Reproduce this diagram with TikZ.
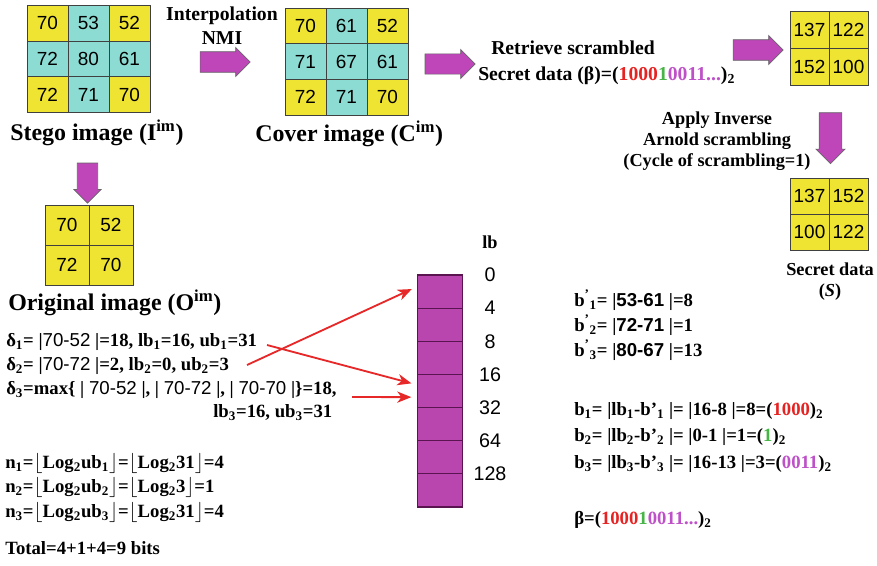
\documentclass[tikz,border=0pt]{standalone}
\usepackage{fontspec}
\setmainfont{Liberation Serif}
\setsansfont{Liberation Sans}
\usetikzlibrary{shapes.arrows,arrows.meta}
\definecolor{gridyellow}{RGB}{240,228,50}
\definecolor{gridcyan}{RGB}{140,220,212}
\definecolor{arrowmag}{RGB}{190,70,185}
\definecolor{binfill}{RGB}{185,70,175}
\definecolor{binline}{RGB}{90,20,80}
\definecolor{linkred}{RGB}{230,40,40}
\definecolor{bitred}{RGB}{230,35,35}
\definecolor{bitgreen}{RGB}{70,180,70}
\definecolor{bitpurple}{RGB}{190,80,200}
\newcommand\sv[1]{{\sffamily\mdseries #1}}
\newcommand\svb[1]{{\sffamily #1}}
\newcommand\bits{(\textcolor{bitred}{1000}\textcolor{bitgreen}{1}\textcolor{bitpurple}{0011...})\textsubscript{2}}
\tikzset{
  cell/.style={draw=black!75,line width=0.6pt,inner sep=0pt,
    font=\sffamily\fontsize{13.5}{14}\selectfont,
    minimum width=1.025cm,minimum height=0.9cm},
  ycell/.style={cell,fill=gridyellow},
  ccell/.style={cell,fill=gridcyan},
  bigarrow/.style={single arrow,draw=black!60,fill=arrowmag,line width=0.5pt,
    inner sep=0.19cm,minimum width=0.72cm,minimum height=1.25cm,
    single arrow head extend=0.08cm},
  bin/.style={draw=binline,fill=binfill,line width=0.8pt,
    minimum width=1.125cm,minimum height=0.8285cm,inner sep=0pt},
  ttl/.style={font=\bfseries\fontsize{17}{19}\selectfont,inner sep=0pt},
  txt/.style={font=\bfseries\fontsize{13}{15}\selectfont,inner sep=0pt},
  eq/.style={font=\bfseries\fontsize{13.3}{15}\selectfont,inner sep=0pt,anchor=west},
  lbnum/.style={font=\sffamily\fontsize{14}{15}\selectfont,inner sep=0pt},
  link/.style={-{Stealth[length=10pt,width=8pt,inset=3pt]},draw=linkred,line width=1.3pt}
}
\begin{document}
\begin{tikzpicture}[x=0.025cm,y=-0.025cm]
\useasboundingbox (0,0) rectangle (877,566);
% stego image
\node[ycell] (s11) at (47.5,23) {70};
\node[ccell] (s12) at (88.5,23) {53};
\node[ycell] (s13) at (129.5,23) {52};
\node[ccell] (s21) at (47.5,59) {72};
\node[ccell] (s22) at (88.5,59) {80};
\node[ccell] (s23) at (129.5,59) {61};
\node[ycell] (s31) at (47.5,94.5) {72};
\node[ccell] (s32) at (88.5,94.5) {71};
\node[ycell] (s33) at (129.5,94.5) {70};
\node[ttl,anchor=west] (stego) at (10,133) {Stego image (I\textsuperscript{im})};
% cover image
\node[ycell] (c11) at (305.5,26) {70};
\node[ccell] (c12) at (346.5,26) {61};
\node[ycell] (c13) at (387.5,26) {52};
\node[ccell] (c21) at (305.5,61.5) {71};
\node[ccell] (c22) at (346.5,61.5) {67};
\node[ccell] (c23) at (387.5,61.5) {61};
\node[ycell] (c31) at (305.5,97) {72};
\node[ccell] (c32) at (346.5,97) {71};
\node[ycell] (c33) at (387.5,97) {70};
\node[ttl,anchor=west] (cover) at (255,134) {Cover image (C\textsuperscript{im})};
% interpolation step
\node[txt,font=\bfseries\fontsize{14}{15}\selectfont] (interp) at (222,16) {Interpolation};
\node[txt,font=\bfseries\fontsize{14}{15}\selectfont] (nmi) at (222,38) {NMI};
\node[bigarrow] (a1) at (220,62) {};
\node[bigarrow,inner sep=0.18cm] (a2) at (445,64) {};
% retrieve
\node[txt,font=\bfseries\fontsize{14}{15}\selectfont] (retr) at (573,48) {Retrieve scrambled};
\node[txt,font=\bfseries\fontsize{14}{15}\selectfont,anchor=west] (sdat) at (478,76) {Secret data (β)=\bits};
\node[bigarrow] (a3) at (753,50) {};
% scrambled secret
\node[ycell,minimum width=0.975cm,minimum height=0.91cm] (p11) at (809.5,30) {137};
\node[ycell,minimum width=0.975cm,minimum height=0.91cm] (p12) at (848.5,30) {122};
\node[ycell,minimum width=0.975cm,minimum height=0.91cm] (p21) at (809.5,67) {152};
\node[ycell,minimum width=0.975cm,minimum height=0.91cm] (p22) at (848.5,67) {100};
\node[bigarrow,rotate=-90,inner sep=0.275cm,minimum width=0.65cm,minimum height=1.275cm] (a4) at (830.5,132.5) {};
\node[txt] (inv1) at (717,120) {Apply Inverse};
\node[txt] (inv2) at (717,141) {Arnold scrambling};
\node[txt] (inv3) at (717,162) {(Cycle of scrambling=1)};
% secret data
\node[ycell,minimum width=0.975cm,minimum height=0.9cm] (q11) at (809.5,196) {137};
\node[ycell,minimum width=0.975cm,minimum height=0.9cm] (q12) at (848.5,196) {152};
\node[ycell,minimum width=0.975cm,minimum height=0.9cm] (q21) at (809.5,232) {100};
\node[ycell,minimum width=0.975cm,minimum height=0.9cm] (q22) at (848.5,232) {122};
\node[txt] (sec) at (830,269) {Secret data};
\node[txt] (secs) at (830,292) {(\textit{S})};
% original image
\node[bigarrow,rotate=-90,inner sep=0.2375cm,minimum width=0.675cm,minimum height=1cm] (a5) at (87.5,178) {};
\node[ycell,minimum width=1.1cm,minimum height=1cm] (o11) at (67,225) {70};
\node[ycell,minimum width=1.1cm,minimum height=1cm] (o12) at (111,225) {52};
\node[ycell,minimum width=1.1cm,minimum height=1cm] (o21) at (67,265) {72};
\node[ycell,minimum width=1.1cm,minimum height=1cm] (o22) at (111,265) {70};
\node[ttl,anchor=west] (orig) at (8,303) {Original image (O\textsuperscript{im})};
% differences
\node[eq] (d1) at (6,342) {δ\textsubscript{1}= |\sv{70-52} |=18, lb\textsubscript{1}=16, ub\textsubscript{1}=31};
\node[eq] (d2) at (6,366) {δ\textsubscript{2}= |\sv{70-72} |=2, lb\textsubscript{2}=0, ub\textsubscript{2}=3};
\node[eq] (d3) at (6,390) {δ\textsubscript{3}=max\{ | \sv{70-52} |, | \sv{70-72} |, | \sv{70-70} |\}=18,};
\node[eq] (d3b) at (213,413) {lb\textsubscript{3}=16, ub\textsubscript{3}=31};
\node[eq] (n1) at (5,463) {n\textsubscript{1}=$\lfloor$Log\textsubscript{2}ub\textsubscript{1}$\rfloor$=$\lfloor$Log\textsubscript{2}31$\rfloor$=4};
\node[eq] (n2) at (5,487) {n\textsubscript{2}=$\lfloor$Log\textsubscript{2}ub\textsubscript{2}$\rfloor$=$\lfloor$Log\textsubscript{2}3$\rfloor$=1};
\node[eq] (n3) at (5,512) {n\textsubscript{3}=$\lfloor$Log\textsubscript{2}ub\textsubscript{3}$\rfloor$=$\lfloor$Log\textsubscript{2}31$\rfloor$=4};
\node[eq] (total) at (5,548) {Total=4+1+4=9 bits};
% range table
\node[bin] (r0) at (440,291.6) {};
\node[bin] (r1) at (440,324.7) {};
\node[bin] (r2) at (440,357.9) {};
\node[bin] (r3) at (440,391) {};
\node[bin] (r4) at (440,424.1) {};
\node[bin] (r5) at (440,457.3) {};
\node[bin] (r6) at (440,490.4) {};
\node[txt] (lb) at (490,242) {lb};
\node[lbnum] (l0) at (490,275) {0};
\node[lbnum] (l1) at (490,308.1) {4};
\node[lbnum] (l2) at (490,341.3) {8};
\node[lbnum] (l3) at (490,374.4) {16};
\node[lbnum] (l4) at (490,407.6) {32};
\node[lbnum] (l5) at (490,440.7) {64};
\node[lbnum] (l6) at (490,473.8) {128};
\coordinate (e2) at (247,365);
\coordinate (e1) at (267,345);
\coordinate (e3) at (352,397);
\draw[link,shorten >=4pt] (e2) -- (r0.168);
\draw[link,shorten >=4pt] (e1) -- (r3.165);
\draw[link,shorten >=4pt] (e3) -- (r3.195);
% extraction
\node[eq] (bp1) at (574,300) {b\textsuperscript{'}\textsubscript{1}= |\svb{53-61} |=8};
\node[eq] (bp2) at (574,325) {b\textsuperscript{'}\textsubscript{2}= |\svb{72-71} |=1};
\node[eq] (bp3) at (574,350) {b\textsuperscript{'}\textsubscript{3}= |\svb{80-67} |=13};
\node[eq] (b1) at (574,411) {b\textsubscript{1}= |lb\textsubscript{1}-b'\textsubscript{1} |= |16-8 |=8=(\textcolor{bitred}{1000})\textsubscript{2}};
\node[eq] (b2) at (574,437) {b\textsubscript{2}= |lb\textsubscript{2}-b'\textsubscript{2} |= |0-1 |=1=(\textcolor{bitgreen}{1})\textsubscript{2}};
\node[eq] (b3) at (574,464) {b\textsubscript{3}= |lb\textsubscript{3}-b'\textsubscript{3} |= |16-13 |=3=(\textcolor{bitpurple}{0011})\textsubscript{2}};
\node[eq] (beta) at (574,520) {β=\bits};
\end{tikzpicture}
\end{document}
